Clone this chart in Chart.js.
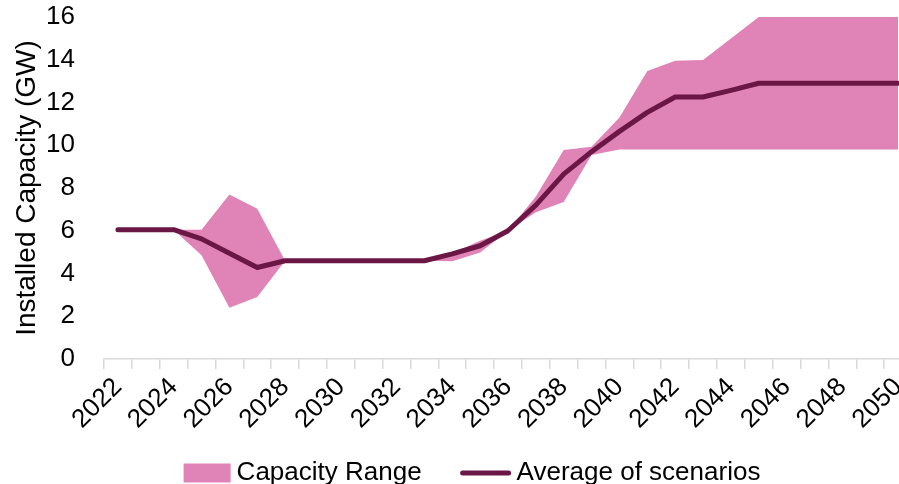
<!DOCTYPE html>
<html>
<head>
<meta charset="utf-8">
<script src="https://cdn.jsdelivr.net/npm/chart.js@4.4.1/dist/chart.umd.min.js"></script>
<style>
  html, body { margin: 0; padding: 0; background: #fff; overflow: hidden; }
  #wrap { position: absolute; left: 0; top: 0; width: 930px; height: 484px; }
</style>
</head>
<body>
<div id="wrap"><canvas id="chart"></canvas></div>
<script>
const years = [2022, 2023, 2024, 2025, 2026, 2027, 2028, 2029, 2030, 2031,
    2032, 2033, 2034, 2035, 2036, 2037, 2038, 2039, 2040, 2041,
    2042, 2043, 2044, 2045, 2046, 2047, 2048, 2049, 2050];

const average = [6.05, 6.05, 6.05, 5.62, 4.95, 4.28, 4.6, 4.6, 4.6, 4.6,
    4.6, 4.6, 4.92, 5.3, 6.0, 7.2, 8.65, 9.7, 10.65, 11.54,
    12.26, 12.26, 12.57, 12.9, 12.9, 12.9, 12.9, 12.9, 12.9];

const rangeLow = [6.05, 6.05, 6.05, 4.85, 2.4, 2.9, 4.6, 4.6, 4.6, 4.6,
    4.6, 4.6, 4.58, 4.98, 6.0, 6.87, 7.35, 9.55, 9.8, 9.8,
    9.8, 9.8, 9.8, 9.8, 9.8, 9.8, 9.8, 9.8, 9.8];

const rangeHigh = [6.05, 6.05, 6.05, 6.05, 7.7, 7.03, 4.6, 4.6, 4.6, 4.6,
    4.6, 4.6, 4.95, 5.53, 6.0, 7.6, 9.78, 9.93, 11.3, 13.47,
    13.95, 13.99, 15.0, 16, 16, 16, 16, 16, 16];

const yTicks = [0, 2, 4, 6, 8, 10, 12, 14, 16];

const PINK = '#E083B6';
const MAROON = '#6A1746';
const FONT = "'Liberation Sans', Arial, sans-serif";

// legend drawn by hand so it can sit where Excel put it
const bottomLegend = {
    id: 'bottomLegend',
    afterDraw(chart) {
        const { ctx } = chart;
        const range = chart.data.datasets[1];
        const avg = chart.data.datasets[2];
        ctx.save();
        ctx.font = '26px ' + FONT;
        ctx.textBaseline = 'middle';

        const boxW = 47, boxH = 19, lineW = 50, gap = 6, between = 39;
        const w1 = ctx.measureText(range.label).width;
        const w2 = ctx.measureText(avg.label).width;
        const total = boxW + gap + w1 + between + lineW + gap + w2;
        let x = 472 - total / 2;
        const y = 473;

        ctx.fillStyle = range.backgroundColor;
        ctx.fillRect(x, y - boxH / 2, boxW, boxH);
        x += boxW + gap;
        ctx.fillStyle = '#000';
        ctx.fillText(range.label, x, y);
        x += w1 + between;

        ctx.strokeStyle = avg.borderColor;
        ctx.lineWidth = 5;
        ctx.lineCap = 'round';
        ctx.beginPath();
        ctx.moveTo(x + 2, y);
        ctx.lineTo(x + lineW - 2, y);
        ctx.stroke();
        x += lineW + gap;
        ctx.fillText(avg.label, x, y);
        ctx.restore();
    }
};

new Chart(document.getElementById('chart'), {
    type: 'line',
    data: {
        labels: years,
        datasets: [{
            label: 'Range low',
            data: rangeLow,
            borderWidth: 0,
            pointRadius: 0,
            fill: false,
            order: 1
        }, {
            label: 'Capacity Range',
            data: rangeHigh,
            borderWidth: 0,
            pointRadius: 0,
            backgroundColor: PINK,
            fill: '-1',
            order: 1
        }, {
            label: 'Average of scenarios',
            data: average,
            borderColor: MAROON,
            borderWidth: 5,
            borderCapStyle: 'round',
            borderJoinStyle: 'round',
            pointRadius: 0,
            fill: false,
            order: 0
        }]
    },
    options: {
        responsive: true,
        maintainAspectRatio: false,
        animation: false,
        layout: { padding: { left: 6, right: 18, top: 0, bottom: 46 } },
        plugins: {
            legend: { display: false },
            tooltip: { enabled: false }
        },
        scales: {
            x: {
                type: 'category',
                offset: true,
                afterFit: (scale) => { scale.paddingLeft = 0; },
                grid: {
                    offset: true,
                    drawOnChartArea: false,
                    drawTicks: true,
                    tickLength: 10,
                    color: '#d9d9d9',
                    lineWidth: 1.5
                },
                border: { display: true, color: '#d9d9d9', width: 1.5 },
                ticks: {
                    autoSkip: false,
                    minRotation: 45,
                    maxRotation: 45,
                    padding: 3,
                    color: '#000',
                    font: { family: FONT, size: 26 },
                    callback: (v, i) => (i % 2 === 0 ? String(years[i]) : '')
                }
            },
            y: {
                min: yTicks[0],
                max: yTicks[yTicks.length - 1],
                afterBuildTicks: (axis) => { axis.ticks = yTicks.map(v => ({ value: v })); },
                // fixed axis box so plot edges land where Excel had them
                afterFit: (scale) => { scale.paddingTop = 17; scale.width = 98; },
                grid: { display: false, drawTicks: false },
                border: { display: false },
                ticks: {
                    padding: 29,
                    color: '#000',
                    font: { family: FONT, size: 26 }
                },
                title: {
                    display: true,
                    text: 'Installed Capacity (GW)',
                    color: '#000',
                    font: { family: FONT, size: 28 },
                    padding: { top: 4, bottom: 4 }
                }
            }
        }
    },
    plugins: [bottomLegend]
});
</script>
</body>
</html>
